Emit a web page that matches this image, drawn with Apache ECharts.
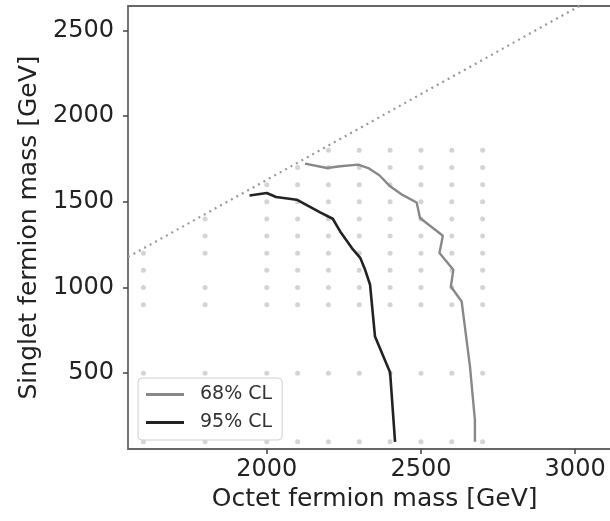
<!DOCTYPE html>
<html><head><meta charset="utf-8">
<script src="https://cdn.jsdelivr.net/npm/echarts@6/dist/echarts.min.js"></script>
<style>html,body{margin:0;padding:0;background:#fff}#c{width:610px;height:521px}</style>
</head><body><div id="c"></div>
<script>
const xTicks = [2000, 2500, 3000];
const yTicks = [500, 1000, 1500, 2000, 2500];
const xRange = [1550, 3150];
const yRange = [58, 2642];
const xName = 'Octet fermion mass [GeV]';
const yName = 'Singlet fermion mass [GeV]';

const cl68Name = '68% CL';
const cl68X = [2124, 2195, 2238, 2297, 2329, 2365, 2400, 2440, 2486, 2497, 2546, 2571, 2560, 2605, 2597, 2632, 2659, 2675, 2675];
const cl68Y = [1723, 1697, 1707, 1717, 1697, 1655, 1590, 1540, 1496, 1405, 1337, 1302, 1201, 1103, 1006, 918, 539, 227, 100];

const cl95Name = '95% CL';
const cl95X = [1944, 2000, 2030, 2097, 2173, 2214, 2238, 2276, 2303, 2319, 2335, 2351, 2400, 2416];
const cl95Y = [1537, 1551, 1528, 1512, 1438, 1401, 1327, 1230, 1173, 1103, 1016, 714, 504, 100];

const diagX = [1550, 3150];
const diagY = [1178, 2778];

const gridCols = [1600, 1800, 2000, 2100, 2200, 2300, 2400, 2500, 2600, 2700];
const gridRows = [
  [100, 500, 900, 1000, 1100, 1200],
  [100, 500, 900, 1000, 1200, 1300, 1400],
  [100, 500, 900, 1000, 1100, 1200, 1300, 1400, 1500, 1600],
  [100, 500, 900, 1000, 1100, 1200, 1300, 1400, 1500, 1600, 1700],
  [100, 500, 900, 1000, 1100, 1200, 1300, 1400, 1500, 1600, 1700, 1800],
  [100, 500, 900, 1000, 1100, 1200, 1300, 1400, 1500, 1600, 1700, 1800],
  [100, 500, 900, 1000, 1100, 1200, 1300, 1400, 1500, 1600, 1700, 1800],
  [100, 500, 900, 1000, 1100, 1200, 1300, 1400, 1500, 1600, 1700, 1800],
  [100, 500, 900, 1000, 1100, 1200, 1300, 1400, 1500, 1600, 1700, 1800],
  [100, 500, 900, 1000, 1100, 1200, 1300, 1400, 1500, 1600, 1700, 1800]
];

const zip = (xs, ys) => xs.map((x, i) => [x, ys[i]]);
const gridPts = [];
gridCols.forEach((x, i) => gridRows[i].forEach(y => gridPts.push([x, y])));

const FONT = 'DejaVu Sans';
const plain = v => String(v);
const chart = echarts.init(document.getElementById('c'), null, {renderer: 'canvas'});
chart.setOption({
  animation: false,
  backgroundColor: '#fff',
  grid: {left: 128, top: 6, width: 493.4, height: 443, outerBoundsMode: 'none', containLabel: false,
         show: true, borderColor: '#666', borderWidth: 1.8, backgroundColor: 'transparent'},
  xAxis: {
    type: 'value', min: xRange[0], max: xRange[1],
    name: xName, nameLocation: 'middle', nameGap: 36,
    nameTextStyle: {fontFamily: FONT, fontSize: 25, color: '#222'},
    axisLine: {show: false},
    splitLine: {show: false},
    axisTick: {show: true, customValues: xTicks, length: 5, lineStyle: {color: '#444', width: 1.5}},
    axisLabel: {customValues: xTicks, formatter: plain, margin: 9, fontFamily: FONT, fontSize: 24, color: '#222'}
  },
  yAxis: {
    type: 'value', min: yRange[0], max: yRange[1],
    name: yName, nameLocation: 'middle', nameGap: 84,
    nameTextStyle: {fontFamily: FONT, fontSize: 25, color: '#222'},
    axisLine: {show: false},
    splitLine: {show: false},
    axisTick: {show: true, customValues: yTicks, length: 5, lineStyle: {color: '#444', width: 1.5}},
    axisLabel: {customValues: yTicks, formatter: plain, margin: 14, fontFamily: FONT, fontSize: 24, color: '#222'}
  },
  legend: {
    data: [cl68Name, cl95Name],
    orient: 'vertical', left: 138, top: 378,
    padding: [7, 10, 8, 8], itemGap: 9,
    itemWidth: 38, itemHeight: 2.8, icon: 'rect',
    backgroundColor: 'rgba(255,255,255,0.85)', borderColor: '#cfcfcf', borderWidth: 1, borderRadius: 4,
    textStyle: {fontFamily: FONT, fontSize: 19, color: '#333', padding: [0, 0, 0, 11]}
  },
  series: [
    {type: 'scatter', data: gridPts, symbolSize: 5, itemStyle: {color: '#c9c9c9'}, z: 1, silent: true},
    {type: 'line', data: zip(diagX, diagY), showSymbol: false, symbol: 'none', lineStyle: {color: '#999', width: 2.2, type: [2, 4.2]}, z: 2},
    {name: cl68Name, type: 'line', data: zip(cl68X, cl68Y), symbol: 'none', smooth: false, lineStyle: {color: '#888', width: 2.4}, itemStyle: {color: '#888'}, z: 3},
    {name: cl95Name, type: 'line', data: zip(cl95X, cl95Y), symbol: 'none', smooth: false, lineStyle: {color: '#222', width: 2.6}, itemStyle: {color: '#222'}, z: 4}
  ]
});
</script></body></html>
